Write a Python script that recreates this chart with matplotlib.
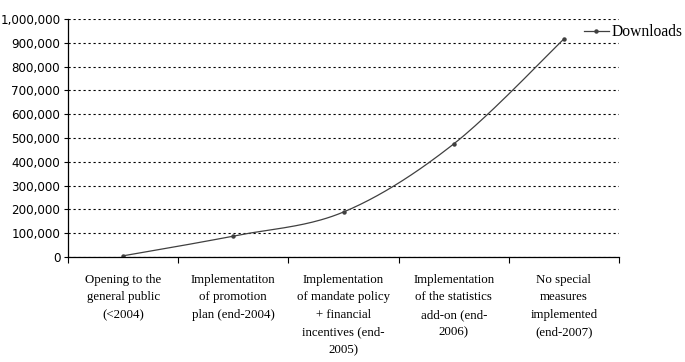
import numpy as np
import matplotlib
matplotlib.use("Agg")
import matplotlib.pyplot as plt
from matplotlib.ticker import FuncFormatter, FixedLocator

CATEGORIES = [
    "Opening to the\ngeneral public\n(<2004)",
    "Implementatiton\nof promotion\nplan (end-2004)",
    "Implementation\nof mandate policy\n+ financial\nincentives (end-\n2005)",
    "Implementation\nof the statistics\nadd-on (end-\n2006)",
    "No special\nmeasures\nimplemented\n(end-2007)",
]
DOWNLOADS = [5000, 88000, 189000, 475000, 916000]
Y_TICKS = list(range(0, 1000001, 100000))
SERIES_NAME = "Downloads"

LINE_COLOR = "#404040"
SERIF = ["Liberation Serif", "DejaVu Serif"]


def smooth(xs, ys, n=40):
    """Catmull-Rom style bezier smoothing, similar to a spreadsheet smoothed line."""
    xs = np.asarray(xs, float)
    ys = np.asarray(ys, float)
    pts = np.column_stack([xs, ys])
    out = []
    for i in range(len(pts) - 1):
        p0 = pts[i - 1] if i > 0 else pts[i]
        p1 = pts[i]
        p2 = pts[i + 1]
        p3 = pts[i + 2] if i + 2 < len(pts) else pts[i + 1]
        c1 = p1 + (p2 - p0) / 6.0
        c2 = p2 - (p3 - p1) / 6.0
        t = np.linspace(0, 1, n)[:, None]
        seg = ((1 - t) ** 3) * p1 + 3 * ((1 - t) ** 2) * t * c1 + 3 * (1 - t) * t ** 2 * c2 + t ** 3 * p2
        out.append(seg if i == 0 else seg[1:])
    seg = np.vstack(out)
    return seg[:, 0], seg[:, 1]


def main():
    fig = plt.figure(figsize=(6.85, 3.62), dpi=100)
    ax = fig.add_axes([68 / 685, 1 - 257 / 362, (619 - 68) / 685, (257 - 19) / 362])

    x = np.arange(len(DOWNLOADS))
    sx, sy = smooth(x, DOWNLOADS)
    ax.plot(sx, sy, color=LINE_COLOR, lw=0.9)
    ax.plot(x, DOWNLOADS, ls="none", marker="o", ms=2.2, color=LINE_COLOR)
    # legend proxy
    ax.plot([], [], color=LINE_COLOR, lw=0.9, marker="o", ms=2.2, label=SERIES_NAME)

    ax.set_xlim(-0.5, len(DOWNLOADS) - 0.5)
    ax.set_ylim(0, 1000000)

    ax.yaxis.set_major_locator(FixedLocator(Y_TICKS))
    ax.yaxis.set_major_formatter(FuncFormatter(lambda v, p: f"{int(v):,}"))
    ax.grid(axis="y", color="black", ls=(0, (2, 2.5)), lw=0.8)
    ax.tick_params(axis="y", direction="out", length=3, width=0.8, labelsize=8.6,
                   colors="black", pad=2.5)

    ax.xaxis.set_major_locator(FixedLocator(np.arange(-0.5, len(DOWNLOADS))))
    ax.xaxis.set_major_formatter(FuncFormatter(lambda v, p: ""))
    ax.xaxis.set_minor_locator(FixedLocator(x))
    ax.set_xticklabels(CATEGORIES, minor=True, fontfamily=SERIF, fontsize=9.3,
                       linespacing=1.62, va="top")
    ax.tick_params(axis="x", which="major", direction="out", length=4, width=0.8)
    ax.tick_params(axis="x", which="minor", length=0, pad=12)

    for side in ("top", "right"):
        ax.spines[side].set_visible(False)
    for side in ("left", "bottom"):
        ax.spines[side].set_linewidth(0.9)
        ax.spines[side].set_color("black")

    ax.legend(loc="upper left", bbox_to_anchor=(0.925, 1.005), frameon=False,
              prop={"family": SERIF, "size": 11.2}, handlelength=1.6,
              handletextpad=0.2, borderaxespad=0)

    fig.savefig("out.png", dpi=100, facecolor="white")


if __name__ == "__main__":
    main()
